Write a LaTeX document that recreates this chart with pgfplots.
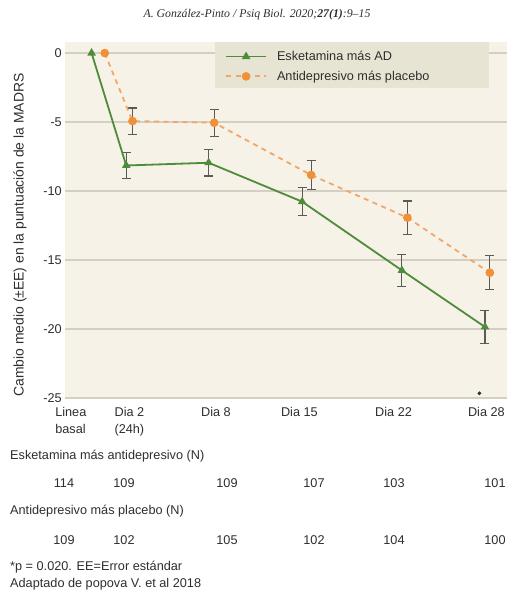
\documentclass[border=0pt]{standalone}
\usepackage{fontspec}
\setmainfont{Liberation Sans}
\newfontfamily\serifit{Liberation Serif}
\usepackage{pgfplots}
\pgfplotsset{compat=1.18}
\definecolor{bgc}{HTML}{F7F2E7}
\definecolor{legbg}{HTML}{E8E4D4}
\definecolor{gridc}{HTML}{D4CFC3}
\definecolor{gline}{HTML}{4D8C3A}
\definecolor{omark}{HTML}{F0913A}
\definecolor{oline}{HTML}{F2A66A}
\definecolor{errc}{HTML}{5A5A5A}
\definecolor{txt}{HTML}{2E2E2E}
\newcommand{\fs}{\fontsize{12.7}{17}\selectfont}
\pgfplotstableread{
x y
-0.4 0
2.1 -8.15
8.05 -7.95
14.8 -10.77
22.0 -15.75
28.0 -19.85
}\green
\pgfplotstableread{
x y e
2.1 -8.15 0.93
8.05 -7.95 0.96
14.8 -10.77 1.03
22.0 -15.75 1.17
28.0 -19.85 1.18
}\greenerr
\pgfplotstableread{
x y
0.55 0
2.55 -4.93
8.45 -5.05
15.45 -8.84
22.4 -11.93
28.35 -15.92
}\orange
\pgfplotstableread{
x y e
2.55 -4.93 0.95
8.45 -5.05 0.97
15.45 -8.84 1.04
22.4 -11.93 1.21
28.35 -15.92 1.22
}\orangeerr
\begin{document}
\begin{tikzpicture}
\path[use as bounding box] (0pt,0pt) rectangle (507pt,-594pt);
\node[font=\serifit\fontsize{11.8}{13}\selectfont\itshape, text=txt] at (257pt,-15pt) {A. González-Pinto / Psiq Biol. 2020;\textbf{27(1)}:9–15};
\node[rotate=90, font=\fontsize{13.9}{16}\selectfont, text=txt] at (20pt,-235pt) {Cambio medio (±EE) en la puntuación de la MADRS};
\begin{axis}[
  at={(65pt,-398pt)}, anchor=south west,
  scale only axis, width=442pt, height=356pt,
  xmin=-2.32, xmax=29.59, ymin=-25, ymax=0.8,
  axis background/.style={fill=bgc},
  axis line style={draw=none},
  major tick length=0pt,
  ytick={-25,-20,-15,-10,-5,0},
  yticklabels={-25,-20,-15,-10,-5,0},
  ymajorgrids, grid style={gridc, line width=1.2pt},
  xtick={-1.9,2.33,8.58,14.6,21.4,28.1},
  xticklabels={{Linea\\basal},{Dia 2\\(24h)},{Dia 8},{Dia 15},{Dia 22},{Dia 28}},
  xticklabel style={anchor=north, inner sep=0pt, yshift=-9pt, align=left, font=\fs, text=txt},
  yticklabel style={anchor=east, inner sep=0pt, xshift=-3pt, font=\fs, text=txt},
  clip=false,
  legend style={at={(axis description cs:0.362,0.975)}, anchor=north west, draw=none, fill=none, inner sep=0pt, row sep=9pt, column sep=10pt, font=\fs, text=txt, nodes={inner sep=0pt}},
  legend cell align=left,
  legend image code/.code={\draw[mark repeat=2,mark phase=2,#1] plot coordinates {(0pt,0pt) (20pt,0pt) (40pt,0pt)};},
]
\fill[legbg] (axis description cs:0.3394,1) rectangle (axis description cs:0.9593,0.8708);
\addplot[draw=none, mark=none, forget plot, error bars/.cd, y dir=both, y explicit, error bar style={draw=errc, line width=1.1pt, solid}, error mark options={draw=errc, rotate=90, mark size=4.5pt, line width=1.1pt}] table[x=x,y=y,y error=e] {\greenerr};
\addplot[draw=none, mark=none, forget plot, error bars/.cd, y dir=both, y explicit, error bar style={draw=errc, line width=1.1pt, solid}, error mark options={draw=errc, rotate=90, mark size=4.5pt, line width=1.1pt}] table[x=x,y=y,y error=e] {\orangeerr};
\addplot[gline, line width=1.8pt, mark=triangle*, mark size=3.2pt, mark options={fill=gline}] table[x=x,y=y] {\green};
\addlegendentry{Esketamina más AD}
\addplot[oline, line width=1.8pt, dash pattern=on 5pt off 4.5pt, mark=*, mark size=3.4pt, mark options={solid, fill=omark, draw=omark}] table[x=x,y=y] {\orange};
\addlegendentry{Antidepresivo más placebo}
\addplot[only marks, forget plot, mark=*, mark size=1.7pt, txt] coordinates {(27.6,-24.66)};
\end{axis}
\begin{scope}[every node/.style={font=\fs, text=txt}]
\node[anchor=west, inner sep=0pt] at (10pt,-456pt) {Esketamina más antidepresivo (N)};
\node at (64pt,-483pt) {114};
\node at (124pt,-483pt) {109};
\node at (227pt,-483pt) {109};
\node at (314pt,-483pt) {107};
\node at (394pt,-483pt) {103};
\node at (495pt,-483pt) {101};
\node[anchor=west, inner sep=0pt] at (10pt,-511pt) {Antidepresivo más placebo (N)};
\node at (64pt,-540pt) {109};
\node at (124pt,-540pt) {102};
\node at (227pt,-540pt) {105};
\node at (314pt,-540pt) {102};
\node at (394pt,-540pt) {104};
\node at (495pt,-540pt) {100};
\node[anchor=west, inner sep=0pt] at (10pt,-567pt) {*p = 0.020. EE=Error estándar};
\node[anchor=west, inner sep=0pt] at (10pt,-584pt) {Adaptado de popova V. et al 2018};
\end{scope}
\end{tikzpicture}
\end{document}
